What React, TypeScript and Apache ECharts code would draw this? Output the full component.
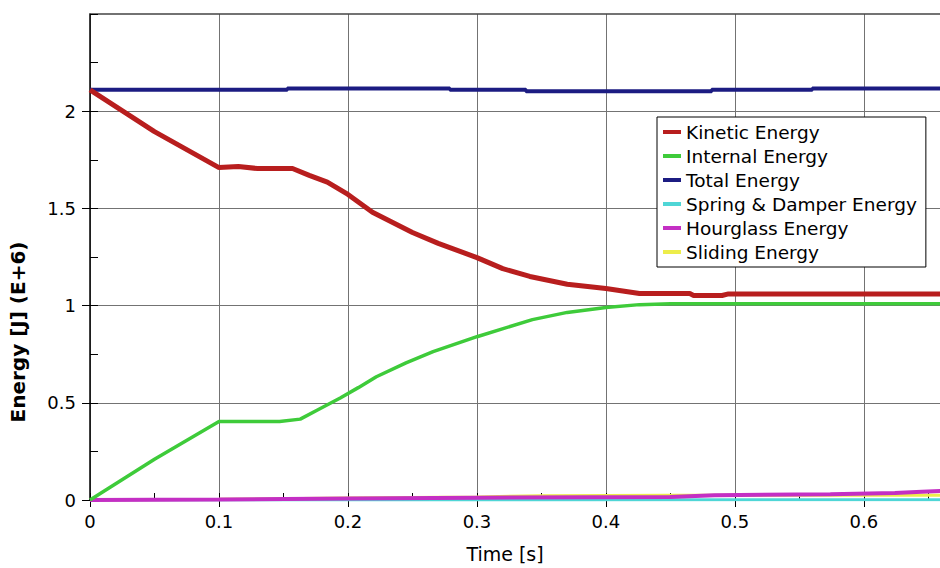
import React, { useEffect, useRef } from "react";
import * as echarts from "echarts";

const seriesNames = [
  "Kinetic Energy",
  "Internal Energy",
  "Total Energy",
  "Spring & Damper Energy",
  "Hourglass Energy",
  "Sliding Energy",
];

const kineticT = [0, 0.05, 0.1, 0.115, 0.13, 0.157, 0.17, 0.184, 0.2, 0.219, 0.25, 0.27, 0.3, 0.32, 0.341, 0.37, 0.4, 0.426, 0.465, 0.468, 0.49, 0.495, 0.66];
const kineticE = [2.11, 1.895, 1.71, 1.715, 1.705, 1.705, 1.67, 1.635, 1.572, 1.48, 1.376, 1.32, 1.247, 1.19, 1.15, 1.11, 1.088, 1.062, 1.062, 1.052, 1.052, 1.06, 1.06];

const internalT = [0, 0.05, 0.1, 0.147, 0.163, 0.176, 0.194, 0.208, 0.222, 0.245, 0.266, 0.3, 0.343, 0.37, 0.4, 0.426, 0.45, 0.66];
const internalE = [0, 0.21, 0.404, 0.404, 0.416, 0.462, 0.525, 0.578, 0.634, 0.705, 0.763, 0.84, 0.928, 0.965, 0.99, 1.005, 1.01, 1.01];

const totalT = [0, 0.153, 0.279, 0.338, 0.482, 0.56, 0.66];
const totalE = [2.11, 2.117, 2.11, 2.103, 2.11, 2.117, 2.117];

const springT = [0, 0.66];
const springE = [0, 0.001];

const hourglassT = [0, 0.1, 0.2, 0.3, 0.45, 0.484, 0.574, 0.624, 0.645, 0.66];
const hourglassE = [0, 0.002, 0.008, 0.012, 0.016, 0.025, 0.03, 0.036, 0.042, 0.046];

const slidingT = [0, 0.1, 0.2, 0.3, 0.35, 0.45, 0.66];
const slidingE = [0, 0.004, 0.01, 0.016, 0.022, 0.024, 0.024];

const xTicks = [0, 0.1, 0.2, 0.3, 0.4, 0.5, 0.6];
const yTicks = [0, 0.5, 1, 1.5, 2];

const colors = ["#b81e1e", "#3ecb3a", "#1c1c82", "#4fd6d6", "#c42fc4", "#eded4a"];
const widths = [5, 3.5, 4, 3, 4, 3];

function pairs(t: number[], e: number[]) {
  return t.map((v, i) => [v, e[i]]);
}

const X_MAX = 0.659;

export default function App() {
  const ref = useRef<HTMLDivElement>(null);
  useEffect(() => {
    if (!ref.current) return;
    const chart = echarts.init(ref.current, undefined, { renderer: "svg" });
    const tickFont = { fontFamily: "DejaVu Sans", fontSize: 18, color: "#000" };
    const datasets = [
      pairs(kineticT, kineticE),
      pairs(internalT, internalE),
      pairs(totalT, totalE),
      pairs(springT, springE),
      pairs(hourglassT, hourglassE),
      pairs(slidingT, slidingE),
    ];
    const zs = [8, 7, 6, 3, 5, 4];
    chart.setOption({
      animation: false,
      backgroundColor: "#fff",
      grid: { left: 90, right: 0, top: 14, bottom: 68, containLabel: false },
      legend: {
        orient: "vertical",
        left: 657,
        top: 117,
        data: seriesNames,
        icon: "rect",
        itemWidth: 18,
        itemHeight: 4,
        itemGap: 0,
        padding: [3, 9, 3, 6],
        backgroundColor: "#fff",
        borderColor: "#000",
        borderWidth: 1,
        borderRadius: 0,
        textStyle: { fontFamily: "DejaVu Sans", fontSize: 18.5, lineHeight: 24, color: "#000" },
      },
      xAxis: [
        {
          type: "value",
          min: 0,
          max: X_MAX,
          interval: 0.1,
          position: "bottom",
          name: "Time [s]",
          nameLocation: "middle",
          nameGap: 44,
          nameTextStyle: { fontFamily: "DejaVu Sans", fontSize: 19, color: "#000", padding: [0, 20, 0, 0] },
          axisLine: { show: true, lineStyle: { color: "#000", width: 1.5 } },
          axisTick: { show: true, inside: false, length: 7, lineStyle: { color: "#000" } },
          axisLabel: {
            ...tickFont,
            margin: 12,
            showMaxLabel: false,
            formatter: (v: number) => {
              const m = xTicks.find((t) => Math.abs(t - v) < 1e-6);
              return m === undefined ? "" : String(m);
            },
          },
          splitLine: { show: true, showMaxLine: false, lineStyle: { color: "#737373", width: 1 } },
        },
        {
          type: "value",
          min: 0,
          max: X_MAX,
          interval: 0.05,
          position: "bottom",
          axisLine: { show: false },
          axisTick: { show: true, inside: true, length: 7, lineStyle: { color: "#000" } },
          axisLabel: { show: false },
          splitLine: { show: false },
        },
        {
          type: "value",
          min: 0,
          max: X_MAX,
          position: "top",
          axisLine: { show: true, lineStyle: { color: "#444", width: 1.5 } },
          axisTick: { show: false },
          axisLabel: { show: false },
          splitLine: { show: false },
        },
      ],
      yAxis: [
        {
          type: "value",
          min: 0,
          max: 2.5,
          interval: 0.5,
          position: "left",
          name: "Energy [J] (E+6)",
          nameLocation: "middle",
          nameGap: 62,
          nameTextStyle: { fontFamily: "DejaVu Sans", fontSize: 20, fontWeight: "bold", color: "#000", padding: [0, 150, 0, 0] },
          axisLine: { show: true, lineStyle: { color: "#000", width: 1.5 } },
          axisTick: { show: true, inside: false, length: 8, lineStyle: { color: "#000" } },
          axisLabel: {
            ...tickFont,
            margin: 14,
            showMaxLabel: false,
            formatter: (v: number) => {
              const m = yTicks.find((t) => Math.abs(t - v) < 1e-6);
              return m === undefined ? "" : String(m);
            },
          },
          splitLine: { show: true, showMaxLine: false, lineStyle: { color: "#737373", width: 1 } },
        },
        {
          type: "value",
          min: 0,
          max: 2.5,
          interval: 0.25,
          position: "left",
          axisLine: { show: false },
          axisTick: { show: true, inside: true, length: 8, lineStyle: { color: "#000" } },
          axisLabel: { show: false },
          splitLine: { show: false },
        },
      ],
      series: seriesNames.map((name, i) => ({
        name,
        type: "line",
        xAxisIndex: 0,
        yAxisIndex: 0,
        data: datasets[i],
        step: i === 2 ? "end" : undefined,
        showSymbol: false,
        symbol: "none",
        z: zs[i],
        color: colors[i],
        lineStyle: { color: colors[i], width: widths[i] },
        itemStyle: { color: colors[i] },
      })),
    });
    return () => chart.dispose();
  }, []);
  return <div ref={ref} style={{ width: 940, height: 568, position: "absolute", left: 0, top: 0 }} />;
}
